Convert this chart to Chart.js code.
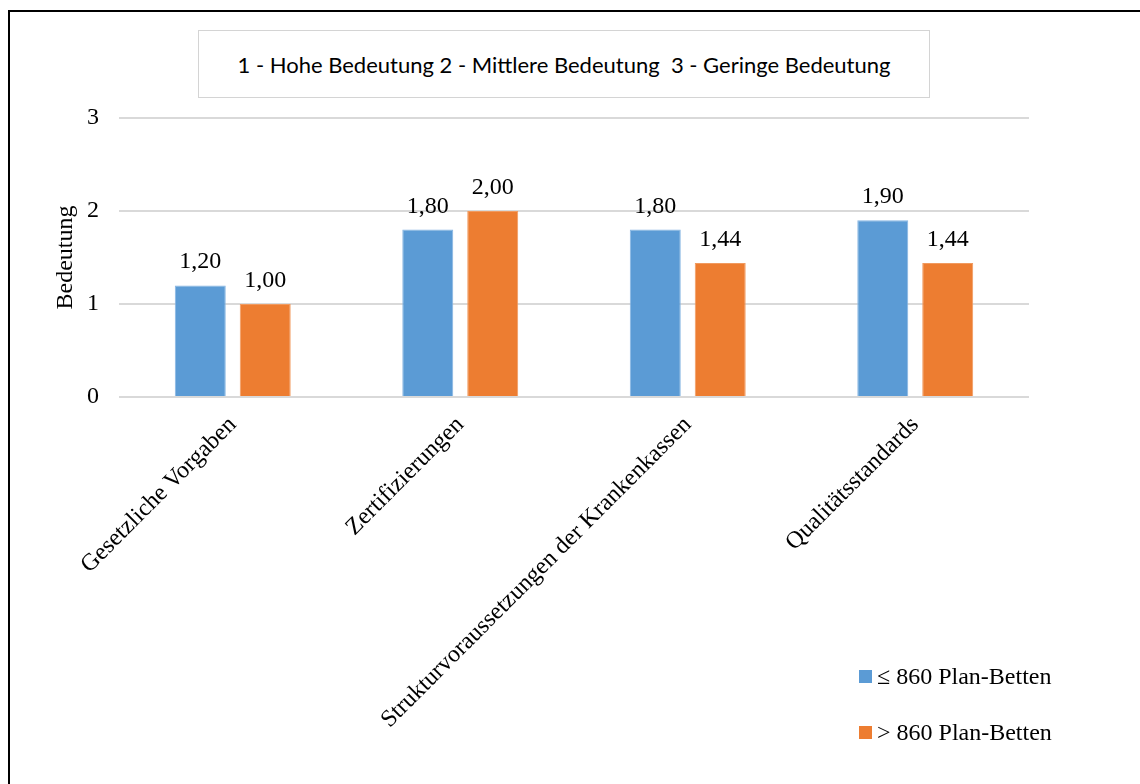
<!DOCTYPE html>
<html lang="de">
<head>
<meta charset="utf-8">
<title>Bedeutung</title>
<script src="https://cdn.jsdelivr.net/npm/chart.js@4/dist/chart.umd.min.js"></script>
<style>
  html, body { margin: 0; padding: 0; background: #fff; }
  #wrap { position: relative; width: 1140px; height: 784px; overflow: hidden; }
  #frame {
    position: absolute; left: 8px; top: 10px; width: 1200px; height: 800px;
    border-left: 2px solid #000; border-top: 2px solid #000;
  }
  #box {
    position: absolute; left: 198px; top: 30px; width: 730px; height: 66px;
    border: 1.5px solid #d4d4d4; background: #fff;
    font-family: Lato, "Open Sans", sans-serif; font-size: 22px; color: #000;
    display: flex; align-items: center; justify-content: center; white-space: pre;
  }
  #chartBox { position: absolute; left: 0; top: 0; width: 1140px; height: 784px; }
  #legend { position: absolute; left: 859px; top: 0; }
  .item {
    position: absolute; left: 0; display: flex; align-items: center; height: 26px;
    font-family: "Liberation Serif", "Times New Roman", serif; font-size: 24px; white-space: nowrap;
  }
  .item span.sw { display: inline-block; width: 13px; height: 13px; margin-right: 5px; }
</style>
</head>
<body>
<div id="wrap">
  <div id="frame"></div>
  <div id="box"></div>
  <div id="chartBox"><canvas id="bedeutung"></canvas></div>
  <div id="legend"></div>
</div>
<script>
// Skala und Werte
const hinweis = "1 - Hohe Bedeutung 2 - Mittlere Bedeutung  3 - Geringe Bedeutung";
const kategorien = [
  "Gesetzliche Vorgaben",
  "Zertifizierungen",
  "Strukturvoraussetzungen der Krankenkassen",
  "Qualitätsstandards",
];
const serienNamen = ["≤ 860 Plan-Betten", "> 860 Plan-Betten"];
const kleineHaeuser = [1.2, 1.8, 1.8, 1.9];
const grosseHaeuser = [1.0, 2.0, 1.44, 1.44];
const yTicks = [0, 1, 2, 3];

const blau = "#5b9bd5";
const orange = "#ed7d31";
const serif = "'Liberation Serif', 'Times New Roman', serif";

document.getElementById("box").textContent = hinweis;

// Werte über den Balken (Komma als Dezimaltrenner)
const wertLabels = {
  id: "wertLabels",
  afterDatasetsDraw(chart) {
    const ctx = chart.ctx;
    ctx.save();
    ctx.font = "24px " + serif;
    ctx.fillStyle = "#000";
    ctx.textAlign = "center";
    ctx.textBaseline = "alphabetic";
    chart.data.datasets.forEach((ds, i) => {
      chart.getDatasetMeta(i).data.forEach((bar, j) => {
        const txt = ds.data[j].toFixed(2).replace(".", ",");
        ctx.fillText(txt, bar.x, bar.y - 17);
      });
    });
    ctx.restore();
  },
};

const ctx = document.getElementById("bedeutung").getContext("2d");

const chart = new Chart(ctx, {
  type: "bar",
  data: {
    labels: kategorien,
    datasets: [
      {
        label: serienNamen[0],
        data: kleineHaeuser,
        backgroundColor: blau,
        borderColor: "#86b5e2",
        borderWidth: 1,
      },
      {
        label: serienNamen[1],
        data: grosseHaeuser,
        backgroundColor: orange,
        borderColor: "#f19a5f",
        borderWidth: 1,
      },
    ],
  },
  options: {
    responsive: true,
    maintainAspectRatio: false,
    animation: false,
    datasets: {
      bar: { categoryPercentage: 0.571, barPercentage: 0.785 },
    },
    layout: { padding: { left: 0, top: 118, right: 111, bottom: 0 } },
    plugins: {
      legend: { display: false },
      tooltip: { enabled: false },
    },
    scales: {
      x: {
        grid: { display: false },
        border: { display: false },
        ticks: {
          color: "#000",
          font: { family: serif, size: 24 },
          minRotation: 45,
          maxRotation: 45,
          padding: 6,
        },
        afterFit(scale) {
          scale.height = 387;
        },
      },
      y: {
        min: 0,
        max: 3,
        afterBuildTicks(scale) {
          scale.ticks = yTicks.map((v) => ({ value: v }));
        },
        grid: { color: "#d9d9d9", lineWidth: 2, drawTicks: false },
        border: { display: false },
        ticks: {
          color: "#000",
          font: { family: serif, size: 24 },
          padding: 20,
        },
        title: {
          display: true,
          text: "Bedeutung",
          color: "#000",
          font: { family: serif, size: 24 },
          padding: { top: 51, bottom: 0 },
        },
        afterFit(scale) {
          scale.width = 119;
        },
      },
    },
  },
  plugins: [wertLabels],
});

// Legende rechts unten
const legende = document.getElementById("legend");
const legendTops = [663, 719];
chart.data.datasets.forEach((ds, i) => {
  const item = document.createElement("div");
  item.className = "item";
  item.style.top = legendTops[i] + "px";
  const sw = document.createElement("span");
  sw.className = "sw";
  sw.style.background = ds.backgroundColor;
  item.appendChild(sw);
  item.appendChild(document.createTextNode(ds.label));
  legende.appendChild(item);
});
</script>
</body>
</html>
